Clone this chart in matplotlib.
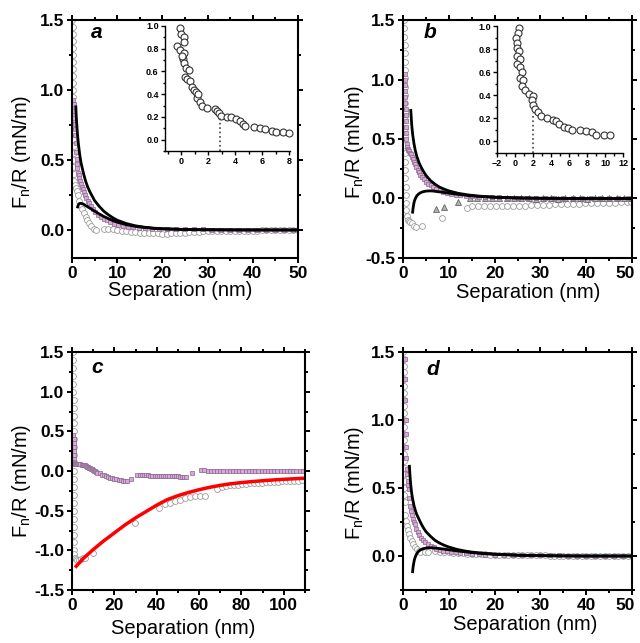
#!/usr/bin/env python3
"""Normal force vs separation, four panels with two insets."""
import matplotlib
matplotlib.use("Agg")
import matplotlib.pyplot as plt
from matplotlib.ticker import MultipleLocator

plt.rcParams["font.family"] = ["Liberation Sans", "DejaVu Sans"]
plt.rcParams["mathtext.fontset"] = "custom"
plt.rcParams["mathtext.rm"] = "Liberation Sans"
plt.rcParams["mathtext.default"] = "regular"

# ---------------- panel a ----------------
A_GREY_X = [0.10, 0.12, 0.13, 0.15, 0.16, 0.18, 0.19, 0.20, 0.22, 0.23, 0.24, 0.26,
            0.27, 0.28, 0.30, 0.31, 0.32, 0.33, 0.35, 0.36, 0.30, 0.25, 0.40, 0.55,
            0.6, 0.8, 1.0, 1.3, 1.6, 1.9, 2.2, 2.6, 3.0, 3.4, 3.8, 4.3, 4.9, 5.3,
            7, 8, 9, 10, 11, 12, 13, 14, 15, 16, 17, 18, 19, 20, 21, 22, 23, 24, 25,
            26, 27, 28, 29, 30, 31, 32, 33, 34, 35, 36, 37, 38, 39, 40, 41, 42, 43,
            44, 45, 46, 47, 48, 49, 50]
A_GREY_Y = [1.50, 1.45, 1.40, 1.35, 1.30, 1.25, 1.20, 1.15, 1.10, 1.05, 1.00, 0.95,
            0.90, 0.85, 0.80, 0.75, 0.70, 0.65, 0.60, 0.55, 0.50, 0.45, 0.40, 0.35,
            0.32, 0.30, 0.28, 0.25, 0.21, 0.18, 0.15, 0.12, 0.09, 0.07, 0.05, 0.03, 0.01, 0.0,
            0.01, 0.01, 0.005, 0.0, -0.005, -0.01, -0.012, -0.015, -0.018, -0.02, -0.02,
            -0.022, -0.025, -0.028, -0.027, -0.025, -0.025, -0.022, -0.025, -0.015, -0.012,
            -0.012, -0.01, -0.01, -0.01, -0.008, -0.008, -0.008, -0.006, -0.006, -0.005,
            -0.005, -0.005, -0.004, -0.004, -0.003, -0.003, -0.003, -0.002, -0.002, -0.002,
            -0.001, -0.001, 0.0]
A_PINK_X = [0.3, 0.4, 0.5, 0.55, 0.6, 0.65, 0.7, 0.8, 0.9, 1.0, 1.1, 1.2, 1.35, 1.5,
            1.65, 1.8, 2.0, 2.2, 2.4, 2.6, 2.9, 3.2, 3.5, 3.8, 4.2, 4.7, 5.2, 5.8, 6.4,
            7.0, 7.7, 8.5, 9.3, 10.2, 11.2, 12.3, 13.5, 14.8, 16.2, 17.7, 19.3, 21, 23,
            25, 27, 29, 31, 33, 35, 37, 39, 41, 43, 45, 47, 49]
A_PINK_Y = [0.93, 0.9, 0.85, 0.8, 0.76, 0.72, 0.68, 0.62, 0.56, 0.51, 0.47, 0.44, 0.41,
            0.39, 0.37, 0.35, 0.33, 0.31, 0.29, 0.27, 0.25, 0.23, 0.21, 0.19, 0.17, 0.15,
            0.13, 0.11, 0.095, 0.08, 0.068, 0.056, 0.046, 0.038, 0.03, 0.024, 0.019, 0.015,
            0.012, 0.01, 0.008, 0.007, 0.006, 0.005, 0.004, 0.004, 0.003, 0.003, 0.002,
            0.002, 0.002, 0.002, 0.002, 0.001, 0.001, 0.001]
A_FIT1_X = [0.85, 0.9, 1.0, 1.2, 1.4, 1.7, 2.0, 2.5, 3.0, 3.5, 4.0, 5.0, 6.0, 7.0, 8.0,
            9.0, 10, 12, 14, 16, 18, 20, 25, 30, 35, 40, 45, 50]
A_FIT1_Y = [0.88, 0.84, 0.78, 0.69, 0.62, 0.54, 0.48, 0.41, 0.35, 0.305, 0.27, 0.21,
            0.17, 0.135, 0.11, 0.088, 0.07, 0.046, 0.03, 0.02, 0.013, 0.009, 0.004, 0.002,
            0.001, 0, 0, 0]
A_FIT2_X = [1.25, 1.4, 1.6, 1.8, 2.0, 2.5, 3.0, 3.5, 4.0, 5.0, 6.0, 7.0, 8.0, 9.0, 10,
            12, 14, 16, 18, 20, 25, 30, 35, 40, 45, 50]
A_FIT2_Y = [0.165, 0.18, 0.188, 0.19, 0.19, 0.185, 0.175, 0.165, 0.155, 0.135, 0.115,
            0.097, 0.082, 0.068, 0.056, 0.038, 0.026, 0.018, 0.012, 0.008, 0.003, 0.001,
            0, 0, 0, 0]
A_INSET_X = [-0.07, 0.0, 0.17, 0.24, -0.32, -0.07, 0.22, 0.1, 0.17, 0.05, 0.35, 0.61,
             0.29, 0.45, 0.66, 0.79, 0.95, 1.1, 1.15, 1.25, 1.4, 1.52, 1.89, 2.5, 2.68,
             2.8, 2.92, 3.36, 3.7, 4.05, 4.35, 4.55, 4.7, 5.37, 5.8, 6.2, 6.7, 7.0, 7.5, 8.0]
A_INSET_Y = [0.98, 0.93, 0.90, 0.86, 0.82, 0.79, 0.76, 0.71, 0.67, 0.74, 0.63, 0.61,
             0.55, 0.53, 0.52, 0.46, 0.44, 0.42, 0.37, 0.40, 0.33, 0.30, 0.28, 0.27, 0.25,
             0.23, 0.21, 0.20, 0.195, 0.18, 0.16, 0.14, 0.12, 0.11, 0.10, 0.09, 0.08, 0.07,
             0.065, 0.055]
A_INSET_MARK = (2.9, 0.2)

# ---------------- panel b ----------------
B_GREY_X = [0.25, 0.28, 0.30, 0.33, 0.36, 0.40, 0.42, 0.45, 0.48, 0.50, 0.50, 0.50,
            0.48, 0.45, 0.42, 0.40, 0.40, 0.42, 0.45, 0.50, 0.55, 0.6, 0.65, 0.7, 0.8,
            1.0, 1.3, 1.6, 2.0, 2.4, 2.9, 4.2, 8.6, 13.9,
            15.0, 16.3, 17.6, 18.9, 20.2, 21.5, 22.8, 24.1, 25.4, 26.7, 28.0, 29.3, 30.6,
            31.9, 33.2, 34.5, 35.8, 37.1, 38.4, 39.7, 41.0, 42.3, 43.6, 44.9, 46.2, 47.5,
            48.8, 49.8]
B_GREY_Y = [1.5, 1.43, 1.36, 1.29, 1.22, 1.15, 1.08, 1.01, 0.94, 0.87, 0.80, 0.73,
            0.66, 0.59, 0.52, 0.45, 0.38, 0.31, 0.24, 0.17, 0.10, 0.03, -0.04, -0.10,
            -0.15, -0.18, -0.19, -0.20, -0.21, -0.23, -0.24, -0.23, -0.165, -0.08,
            -0.066, -0.066, -0.066, -0.065, -0.065, -0.064, -0.063, -0.062, -0.061, -0.06,
            -0.058, -0.056, -0.054, -0.052, -0.05, -0.048, -0.046, -0.045, -0.043, -0.042,
            -0.04, -0.038, -0.037, -0.035, -0.034, -0.032, -0.031, -0.03]
B_TRI_X = [7.2, 9.0, 12.1, 14.6, 16.2, 17.8, 19.4, 21.0, 22.6, 24.2, 25.8, 27.4, 29.0,
           30.6, 32.2, 33.8, 35.4, 37.0, 38.6, 40.2, 41.8, 43.4, 45.0, 46.6, 48.2, 49.8]
B_TRI_Y = [-0.09, -0.075, -0.03, 0.005, 0.006, 0.004, 0.003, 0.002, 0.002, 0.001, 0.0,
           0.0, -0.001, 0.0, 0.0, -0.001, 0.0, 0.0, 0.0, -0.001, 0.0, 0.0, 0.0, 0.0,
           0.0, 0.0]
B_PINK_X = [0.40, 0.42, 0.45, 0.48, 0.50, 0.52, 0.55, 0.58, 0.62, 0.66, 0.70, 0.75,
            0.80, 0.9, 1.0, 1.15, 1.3, 1.5, 1.7, 1.9, 2.1, 2.35, 2.6, 2.9, 3.2, 3.5, 3.8,
            4.2, 4.6, 5.0, 5.5, 6.0, 6.6, 7.3, 8.0, 8.8, 9.6, 10.5, 11.5, 12.5, 13.7, 15,
            16.5, 18, 19.5, 21, 23, 25, 27, 29, 31, 33, 35, 37, 39, 41, 43, 45, 47, 49]
B_PINK_Y = [1.05, 1.0, 0.95, 0.9, 0.85, 0.8, 0.75, 0.7, 0.65, 0.6, 0.55, 0.5, 0.46,
            0.43, 0.42, 0.41, 0.40, 0.385, 0.37, 0.35, 0.33, 0.31, 0.29, 0.265, 0.24,
            0.22, 0.2, 0.18, 0.16, 0.14, 0.125, 0.11, 0.095, 0.08, 0.068, 0.057, 0.048,
            0.04, 0.033, 0.027, 0.022, 0.018, 0.015, 0.012, 0.01, 0.009, 0.008, 0.007,
            0.006, 0.006, 0.005, 0.005, 0.005, 0.004, 0.004, 0.004, 0.003, 0.003, 0.003,
            0.003]
B_FIT1_X = [1.7, 1.9, 2.1, 2.4, 2.7, 3.0, 3.5, 4.0, 4.5, 5.0, 6.0, 7.0, 8.0, 9.0, 10,
            12, 14, 16, 18, 20, 25, 30, 35, 40, 45, 50]
B_FIT1_Y = [0.74, 0.62, 0.54, 0.46, 0.40, 0.355, 0.30, 0.26, 0.225, 0.195, 0.15, 0.12,
            0.095, 0.078, 0.064, 0.044, 0.031, 0.022, 0.016, 0.011, 0.005, 0.002, 0.001,
            0, 0, 0]
B_FIT2_X = [2.1, 2.2, 2.35, 2.5, 2.7, 3.0, 3.4, 3.8, 4.3, 5.0, 5.8, 6.5, 7.5, 8.5, 10,
            12, 14, 16, 18, 20, 25, 30, 35, 40, 45, 50]
B_FIT2_Y = [-0.115, -0.08, -0.045, -0.02, 0.0, 0.022, 0.038, 0.048, 0.056, 0.062,
            0.064, 0.063, 0.058, 0.053, 0.045, 0.035, 0.026, 0.019, 0.014, 0.01, 0.004,
            0.002, 0.001, 0, 0, 0]
B_INSET_X = [0.44, 0.3, 0.12, 0.26, 0.2, 0.4, 0.2, 0.6, 0.26, 0.6, 0.8, 0.56, 0.92,
             0.8, 1.1, 1.5, 2.0, 1.9, 2.05, 2.26, 2.5, 2.85, 3.5, 4.2, 4.6, 4.9, 5.45,
             5.9, 6.3, 7.2, 7.9, 8.5, 9.0, 9.9, 10.6]
B_INSET_Y = [0.98, 0.94, 0.90, 0.85, 0.81, 0.78, 0.74, 0.71, 0.67, 0.64, 0.60, 0.55,
             0.53, 0.48, 0.44, 0.41, 0.39, 0.36, 0.31, 0.28, 0.25, 0.22, 0.20, 0.18,
             0.17, 0.15, 0.12, 0.11, 0.10, 0.10, 0.085, 0.08, 0.05, 0.05, 0.05]
B_INSET_MARK = (2.0, 0.24)

# ---------------- panel c ----------------
C_GREY_X = [0.6, 0.62, 0.64, 0.66, 0.68, 0.7, 0.72, 0.74, 0.75, 0.76, 0.77, 0.78, 0.79,
            0.8, 0.8, 0.8, 0.8, 0.8, 0.8, 0.8, 0.8, 0.8, 0.8, 0.85, 0.9, 0.95,
            1.0, 1.3, 1.8, 2.5, 3.3, 4.2, 5.2, 6.2, 9.8, 29.8, 41.3, 44.0, 46.3, 48.6,
            51.0, 53.4, 55.7, 58.0, 60.3, 62.6, 68.4,
            70.7, 72.6, 74.5, 76.4, 78.3, 80.2, 82.1, 84.0, 85.9, 87.8, 89.7, 91.6, 93.5,
            95.4, 97.3, 99.2, 101.1, 103.0, 104.9, 106.8, 108.7]
C_GREY_Y = [1.5, 1.4, 1.3, 1.2, 1.1, 1.0, 0.9, 0.8, 0.7, 0.6, 0.5, 0.4, 0.3, 0.2, 0.1,
            0.0, -0.1, -0.2, -0.3, -0.4, -0.5, -0.6, -0.7, -0.8, -0.9, -1.0,
            -1.05, -1.09, -1.11, -1.12, -1.12, -1.11, -1.1, -1.09, -1.03, -0.66, -0.46,
            -0.42, -0.40, -0.38, -0.36, -0.34, -0.33, -0.32, -0.315, -0.31, -0.22,
            -0.2, -0.19, -0.18, -0.175, -0.17, -0.165, -0.16, -0.155, -0.15, -0.148,
            -0.145, -0.142, -0.14, -0.137, -0.134, -0.131, -0.128, -0.125, -0.122, -0.12,
            -0.118]
C_PINK_X = [0.7, 0.75, 0.8, 0.85, 0.9, 0.95, 1.0, 1.1, 1.3, 1.6, 2.0, 2.5, 3.0, 3.5,
            4.0, 4.5, 5.0, 5.5, 6.0, 6.5, 7.0, 7.5, 8.0, 8.5, 9.0, 9.5, 10, 10.5, 11,
            11.5, 12, 13, 14, 15, 16, 17, 18, 19, 20, 21, 22, 23, 24, 25, 26, 27.7,
            30.9, 32, 33, 34, 35, 36, 37, 38, 39, 40, 41, 42, 43, 44, 45, 46, 47, 48, 49,
            50, 51, 52, 53, 54, 56.5,
            61, 62.5, 64, 65.5, 67, 68.5, 70, 71.5, 73, 74.5, 76, 77.5, 79, 80.5, 82,
            83.5, 85, 86.5, 88, 89.5, 91, 92.5, 94, 95.5, 97, 98.5, 100, 101.5, 103,
            104.5, 106, 107.5, 109]
C_PINK_Y = [0.45, 0.40, 0.35, 0.30, 0.25, 0.2, 0.15, 0.12, 0.1, 0.09, 0.09, 0.085,
            0.085, 0.085, 0.083, 0.08, 0.08, 0.078, 0.075, 0.06, 0.05, 0.045, 0.04, 0.035,
            0.03, 0.02, 0.01, 0.0, -0.005, -0.01, -0.02, -0.03, -0.045, -0.055, -0.065,
            -0.075, -0.085, -0.09, -0.1, -0.105, -0.11, -0.115, -0.12, -0.125, -0.13,
            -0.105,
            -0.05, -0.05, -0.052, -0.053, -0.054, -0.055, -0.056, -0.057, -0.058, -0.059,
            -0.06, -0.061, -0.062, -0.063, -0.064, -0.065, -0.066, -0.067, -0.068, -0.068,
            -0.069, -0.07, -0.07, -0.07, -0.03,
            0.01, 0.008, 0.006, 0.005, 0.005, 0.004, 0.004, 0.003, 0.003, 0.003, 0.002,
            0.002, 0.002, 0.002, 0.001, 0.001, 0.001, 0.001, 0.0, 0.0, 0.0, 0.0, 0.0, 0.0,
            0.0, 0.0, 0.0, 0.0, 0.0, 0.0, 0.0, 0.0, 0.0]
C_FIT_X = [2, 5, 10, 15, 20, 25, 30, 35, 40, 45, 50, 55, 60, 65, 70, 75, 80, 85, 90,
           95, 100, 105, 110]
C_FIT_Y = [-1.2, -1.11, -0.99, -0.88, -0.78, -0.68, -0.59, -0.51, -0.43, -0.36, -0.31,
           -0.27, -0.235, -0.205, -0.18, -0.16, -0.145, -0.133, -0.122, -0.112, -0.104,
           -0.097, -0.09]

# ---------------- panel d ----------------
D_GREY_X = [0.10, 0.12, 0.13, 0.15, 0.16, 0.18, 0.19, 0.20, 0.22, 0.23, 0.24, 0.26,
            0.27, 0.28, 0.30, 0.31, 0.32, 0.33, 0.35, 0.36, 0.30, 0.25, 0.40,
            0.5, 0.6, 0.8, 1.0, 1.3, 1.6, 1.9, 2.2, 2.6, 3.0, 3.4, 3.8, 4.8, 5.5,
            7, 8, 9, 10, 11, 12, 13, 14, 15, 16, 17, 18, 19, 20, 21, 22, 23, 24, 25, 26,
            27, 28, 29, 30, 31, 32, 33, 34, 35, 36, 37, 38, 39, 40, 41, 42, 43, 44, 45,
            46, 47, 48, 49, 50]
D_GREY_Y = [1.50, 1.45, 1.40, 1.35, 1.30, 1.25, 1.20, 1.15, 1.10, 1.05, 1.00, 0.95,
            0.90, 0.85, 0.80, 0.75, 0.70, 0.65, 0.60, 0.55, 0.50, 0.45, 0.40,
            0.3, 0.26, 0.22, 0.19, 0.16, 0.13, 0.11, 0.09, 0.07, 0.055, 0.04, 0.03, 0.03,
            0.03,
            0.035, 0.03, 0.03, 0.028, 0.025, 0.022, 0.02, 0.018, 0.016, 0.015, 0.014,
            0.012, 0.01, 0.009, 0.008, 0.007, 0.007, 0.006, 0.006, 0.005, 0.005, 0.005,
            0.004, 0.004, 0.004, 0.003, 0.003, 0.003, 0.003, 0.002, 0.002, 0.002, 0.002,
            0.002, 0.001, 0.001, 0.001, 0.001, 0.001, 0.0, 0.0, 0.0, 0.0, 0.0]
D_PINK_X = [0.4, 0.45, 0.5, 0.55, 0.6, 0.65, 0.7, 0.8, 0.9, 1.0, 1.1, 1.2, 1.35, 1.5,
            1.7, 1.9, 2.1, 2.35, 2.6, 2.9, 3.2, 3.5, 3.9, 4.4, 4.9, 5.5, 6.1, 6.7, 7.3,
            8.0, 8.8, 9.6, 10.5, 11.5, 12.5, 13.7, 15, 16.5, 18, 20, 22, 24, 26, 28, 30,
            32, 34, 36, 38, 40, 42, 44, 46, 48, 50]
D_PINK_Y = [1.45, 1.3, 1.15, 1.0, 0.9, 0.8, 0.72, 0.64, 0.6, 0.55, 0.52, 0.49, 0.43,
            0.37, 0.33, 0.3, 0.27, 0.25, 0.235, 0.2, 0.175, 0.155, 0.135, 0.12, 0.1, 0.085,
            0.072, 0.063, 0.055, 0.047, 0.04, 0.035, 0.03, 0.026, 0.022, 0.019, 0.016,
            0.013, 0.011, 0.009, 0.008, 0.007, 0.006, 0.005, 0.005, 0.004, 0.004, 0.003,
            0.003, 0.003, 0.002, 0.002, 0.002, 0.001, 0.001]
D_FIT1_X = [1.4, 1.55, 1.7, 1.9, 2.1, 2.4, 2.7, 3.0, 3.5, 4.0, 4.5, 5.0, 6.0, 7.0, 8.0,
            9.0, 10, 12, 14, 16, 18, 20, 25, 30, 35, 40, 45, 50]
D_FIT1_Y = [0.66, 0.58, 0.52, 0.46, 0.42, 0.37, 0.335, 0.305, 0.27, 0.235, 0.205, 0.18,
            0.145, 0.115, 0.095, 0.079, 0.066, 0.047, 0.034, 0.025, 0.019, 0.014, 0.006,
            0.003, 0.001, 0, 0, 0]
D_FIT2_X = [2.1, 2.2, 2.35, 2.5, 2.7, 3.0, 3.4, 3.8, 4.3, 5.0, 5.8, 6.5, 7.5, 8.5, 10,
            12, 14, 16, 18, 20, 25, 30, 35, 40, 45, 50]
D_FIT2_Y = [-0.115, -0.08, -0.05, -0.025, -0.005, 0.018, 0.035, 0.045, 0.053, 0.059,
            0.061, 0.06, 0.057, 0.053, 0.046, 0.037, 0.029, 0.022, 0.017, 0.013, 0.006,
            0.003, 0.001, 0, 0, 0]

GREY = dict(ls="none", marker="o", ms=4.2, mfc="white", mec="#9c9c9c", mew=0.6)
PINK = dict(ls="none", marker="s", ms=3.4, mfc="#dba6da", mec="#85688a", mew=0.5)
YLABEL = "F$_n$/R (mN/m)"
TICK_LEN, TICK_PAD, TICK_SIZE = 3.8, 1.8, 12.5


def style(axis, xlim, ylim, xmajor, xlab, ylab, pull_last=False):
    axis.set_xlim(*xlim)
    axis.set_ylim(*ylim)
    axis.xaxis.set_major_locator(MultipleLocator(xmajor))
    axis.xaxis.set_minor_locator(MultipleLocator(xmajor / 2))
    axis.yaxis.set_major_locator(MultipleLocator(0.5))
    axis.yaxis.set_minor_locator(MultipleLocator(0.25))
    right = xlim[1]
    if pull_last:
        # the right-most label is set a little inside the corner, as in the original
        axis.xaxis.set_major_formatter(
            lambda v, p: "" if abs(v - right) < 1e-6 else f"{v:.0f}")
        axis.annotate(f"{right:.0f}", xy=(1, 0), xycoords="axes fraction",
                      xytext=(-5, -(TICK_LEN + TICK_PAD)), textcoords="offset points",
                      ha="center", va="top", fontsize=TICK_SIZE, fontweight="bold")
    else:
        axis.xaxis.set_major_formatter(lambda v, p: f"{v:.0f}")
    axis.yaxis.set_major_formatter(lambda v, p: f"{v:.1f}")
    axis.tick_params(which="both", direction="out", top=True, right=True, width=1.4,
                     labelsize=TICK_SIZE, pad=TICK_PAD)
    axis.tick_params(which="major", length=TICK_LEN)
    axis.tick_params(which="minor", length=2.3)
    for label in axis.get_xticklabels() + axis.get_yticklabels():
        label.set_fontweight("bold")
    for spine in axis.spines.values():
        spine.set_linewidth(1.5)
    axis.set_xlabel("Separation (nm)", fontsize=14.5)
    axis.xaxis.set_label_coords(*xlab)
    axis.set_ylabel(YLABEL, fontsize=14.5, va="center")
    axis.yaxis.set_label_coords(*ylab)


def inset(figure, rect, data_x, data_y, mark, xlim, xticks):
    axis = figure.add_axes(rect)
    axis.patch.set_alpha(0)
    axis.plot(data_x, data_y, ls="none", marker="o", ms=5, mfc="white", mec="#333333",
              mew=0.8, clip_on=False)
    axis.plot([mark[0], mark[0]], [-0.1, mark[1]], ls=":", color="#444444", lw=1.2)
    axis.set_xlim(*xlim)
    axis.set_ylim(-0.1, 1.0)
    axis.set_xticks(xticks)
    minor = [t + 1 for t in xticks[:-1]]
    if xlim[0] < xticks[0] - 0.9:
        minor.append(xticks[0] - 1)
    axis.set_xticks(minor, minor=True)
    axis.yaxis.set_major_locator(MultipleLocator(0.2))
    axis.yaxis.set_minor_locator(MultipleLocator(0.1))
    axis.yaxis.set_major_formatter(lambda v, p: f"{v:.1f}")
    axis.spines["top"].set_visible(False)
    axis.spines["right"].set_visible(False)
    for spine in axis.spines.values():
        spine.set_linewidth(1.0)
    axis.tick_params(which="both", direction="out", width=1.0, labelsize=6.5, pad=1.5)
    axis.tick_params(which="major", length=3)
    axis.tick_params(which="minor", length=1.8)
    for label in axis.get_xticklabels() + axis.get_yticklabels():
        label.set_fontweight("bold")
    return axis


def main():
    figure = plt.figure(figsize=(6.4, 6.43), dpi=100)
    ax_a = figure.add_axes([0.1125, 0.5988, 0.353, 0.370])
    ax_b = figure.add_axes([0.6297, 0.5988, 0.358, 0.370])
    ax_c = figure.add_axes([0.1125, 0.0824, 0.364, 0.370])
    ax_d = figure.add_axes([0.6297, 0.0824, 0.358, 0.370])

    ax_a.plot(A_GREY_X, A_GREY_Y, **GREY)
    ax_a.plot(A_PINK_X, A_PINK_Y, **PINK)
    ax_a.plot(A_FIT1_X, A_FIT1_Y, color="black", lw=2)
    ax_a.plot(A_FIT2_X, A_FIT2_Y, color="black", lw=2)
    style(ax_a, (0, 50), (-0.2, 1.5), 10, (0.478, -0.095), (-0.223, 0.447))

    ax_b.plot(B_GREY_X, B_GREY_Y, **GREY)
    ax_b.plot(B_TRI_X, B_TRI_Y, ls="none", marker="^", ms=4.5, mfc="#b0b0b0",
              mec="#666666", mew=0.6)
    ax_b.plot(B_PINK_X, B_PINK_Y, **PINK)
    ax_b.plot(B_FIT1_X, B_FIT1_Y, color="black", lw=2)
    ax_b.plot(B_FIT2_X, B_FIT2_Y, color="black", lw=2)
    style(ax_b, (0, 50), (-0.5, 1.5), 10, (0.547, -0.105), (-0.21, 0.49),
          pull_last=True)

    ax_c.plot(C_GREY_X, C_GREY_Y, **GREY)
    ax_c.plot(C_PINK_X, C_PINK_Y, **PINK)
    ax_c.plot(C_FIT_X, C_FIT_Y, color="#ff0000", lw=2.5)
    style(ax_c, (0, 110), (-1.5, 1.5), 20, (0.478, -0.12), (-0.217, 0.46))

    ax_d.plot(D_GREY_X, D_GREY_Y, **GREY)
    ax_d.plot(D_PINK_X, D_PINK_Y, **PINK)
    ax_d.plot(D_FIT1_X, D_FIT1_Y, color="black", lw=2)
    ax_d.plot(D_FIT2_X, D_FIT2_Y, color="black", lw=2)
    style(ax_d, (0, 50), (-0.25, 1.5), 10, (0.533, -0.105), (-0.21, 0.45),
          pull_last=True)

    for axis, letter, x, y in ((ax_a, "a", 0.109, 0.926), (ax_b, "b", 0.118, 0.926),
                               (ax_c, "c", 0.106, 0.913), (ax_d, "d", 0.132, 0.903)):
        axis.text(x, y, letter, transform=axis.transAxes, ha="center", va="baseline",
                  fontsize=15, fontweight="bold", fontstyle="italic")

    inset(figure, [0.2578, 0.7652, 0.1953, 0.1944], A_INSET_X, A_INSET_Y,
          A_INSET_MARK, (-1.2, 8.05), [0, 2, 4, 6, 8])
    inset(figure, [0.7766, 0.7628, 0.197, 0.1967], B_INSET_X, B_INSET_Y,
          B_INSET_MARK, (-2, 12), [-2, 0, 2, 4, 6, 8, 10, 12])

    figure.savefig("out.png", dpi=100)
    plt.close(figure)


if __name__ == "__main__":
    main()
